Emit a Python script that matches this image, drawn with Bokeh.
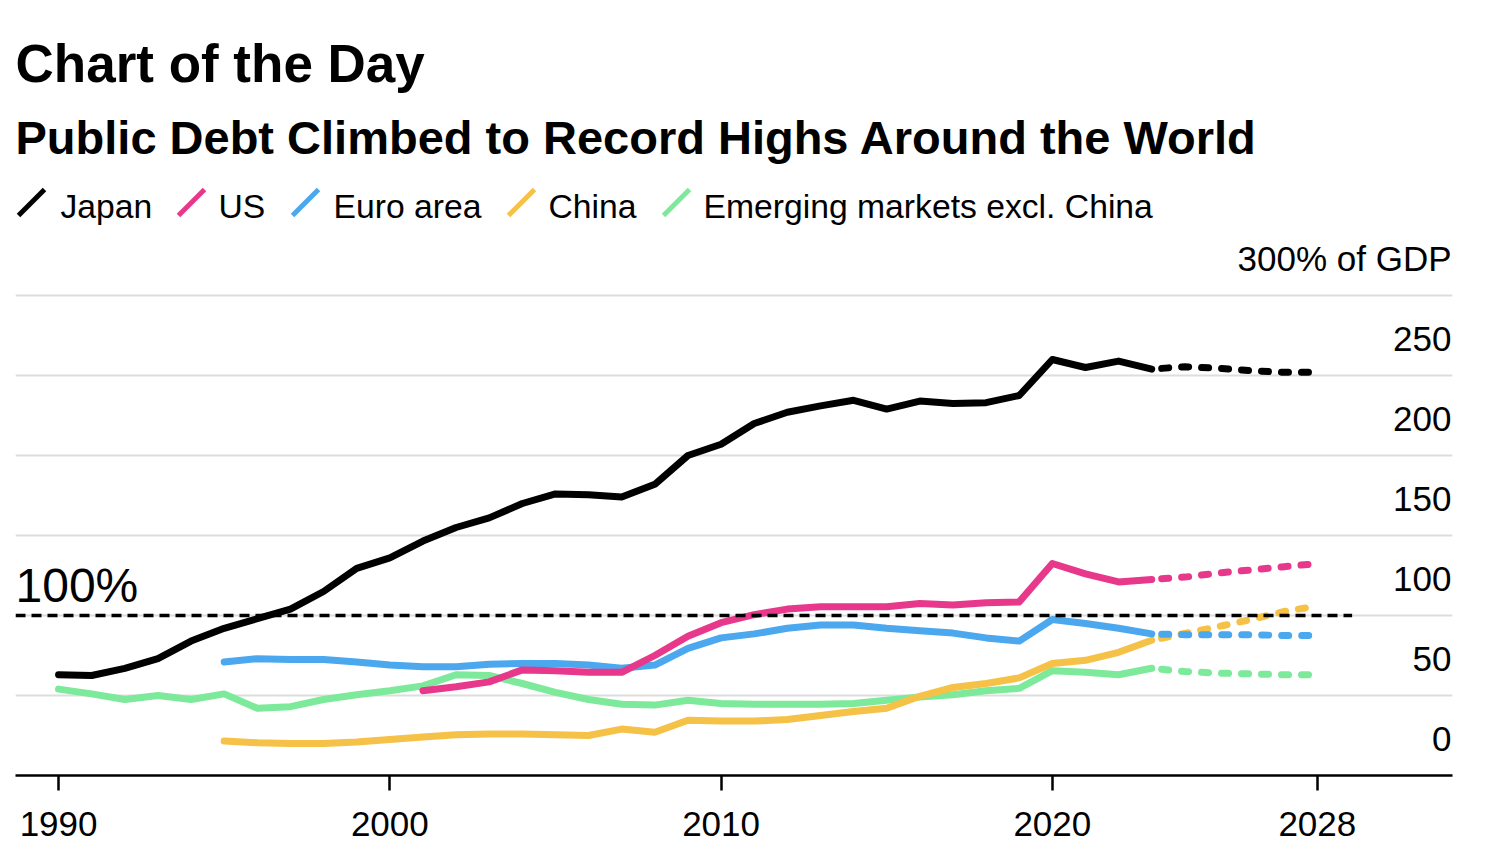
from bokeh.plotting import figure
from bokeh.models import Label, Arrow, FixedTicker, Range1d
from bokeh.embed import file_html
from bokeh.resources import INLINE
from bokeh.core.properties import value

FONT = "Liberation Sans"

# ---------------- data (% of GDP) ----------------
years_japan = list(range(1990, 2024))
japan = [63, 62.5, 67, 73, 84, 92, 98, 104, 115, 129.5, 136, 146.5, 155, 161, 170,
         176, 175.5, 174, 182, 200, 207, 220, 227, 231, 234.5, 229, 234, 232.5, 233,
         237.5, 260, 255, 259, 254]

years_us = list(range(2001, 2024))
us = [53, 55.5, 58.5, 66, 65.5, 64.5, 64.5, 75, 87, 95.5, 100.5, 104, 105.5, 105.5,
      105.5, 107.5, 106.5, 108, 108.5, 132.5, 126, 121, 122.5]

years_euro = list(range(1995, 2024))
euro = [71, 73, 72.5, 72.5, 71, 69, 68, 68, 69.5, 70, 70, 69, 67, 69, 79.5, 86, 88.5,
        92, 94, 94, 92, 90.5, 89, 86, 84, 97.5, 95, 92, 88.5]

years_china = list(range(1995, 2024))
china = [21.5, 20.5, 20, 20, 21, 22.5, 24, 25.5, 26, 26, 25.5, 25, 29, 27, 34.5, 34, 34,
         35, 37.5, 40, 42, 49.5, 55, 57.5, 61, 70, 72, 77, 84.5]

years_em = list(range(1990, 2024))
em = [54, 51, 47.5, 50, 47.5, 51, 42, 43, 47.5, 50.5, 53, 56, 63, 62.5, 57.5, 52, 47.5,
      44.5, 44, 47, 45, 44.5, 44.5, 44.5, 45, 47, 49, 50.5, 53, 54.5, 65.5, 64.5, 63, 67]

# projections (start at last actual value)
years_proj = [2023, 2024, 2025, 2026, 2027, 2028]
japan_proj = [254, 255.5, 254.5, 253, 252, 252]
us_proj = [122.5, 124, 126.5, 128.5, 130.5, 132.5]
euro_proj = [88.5, 88, 88, 88, 87.5, 87.5]
china_proj = [84.5, 88.8, 93, 97.5, 102.5, 106]
em_proj = [67, 65, 64, 63.5, 63, 63]

series_names = ["Japan", "US", "Euro area", "China", "Emerging markets excl. China"]
series_colors = ["#000000", "#e8388b", "#4ba8ee", "#f5c146", "#7de99a"]

x_ticks = [1990, 2000, 2010, 2020, 2028]
y_ticks = [0, 50, 100, 150, 200, 250, 300]
y_tick_labels = ["0", "50", "100", "150", "200", "250", "300% of GDP"]
threshold = 100
threshold_end = 2029.05

# ---------------- figure ----------------
# frame spans the full canvas height above the x axis so that the titles and
# legend (annotations in screen units) are drawn inside it
x0, x1 = 1988.70, 2032.08
p = figure(frame_width=1437, frame_height=775,
           min_border_left=15, min_border_right=48, min_border_top=0, min_border_bottom=75,
           x_range=Range1d(x0, x1), y_range=Range1d(0, 484.375),
           output_backend="svg", toolbar_location=None, y_axis_location=None)
p.outline_line_color = None
p.background_fill_color = "white"
p.border_fill_color = "white"

p.xgrid.grid_line_color = None
p.ygrid.ticker = FixedTicker(ticks=y_ticks)
p.ygrid.grid_line_color = "#dddddd"
p.ygrid.grid_line_width = 2

ax = p.xaxis[0]
ax.ticker = FixedTicker(ticks=x_ticks)
ax.axis_line_color = "black"
ax.axis_line_width = 2.5
ax.major_tick_line_color = "black"
ax.major_tick_line_width = 2.5
ax.major_tick_in = 0
ax.major_tick_out = 15
ax.minor_tick_line_color = None
ax.major_label_text_font = FONT
ax.major_label_text_font_size = "35px"
ax.major_label_text_color = "black"
ax.major_label_standoff = 21

# series (drawn back to front)
actual = [(years_japan, japan), (years_us, us), (years_euro, euro),
          (years_china, china), (years_em, em)]
proj = [japan_proj, us_proj, euro_proj, china_proj, em_proj]
for i in reversed(range(5)):
    xs, ys = actual[i]
    p.line(xs, ys, line_color=series_colors[i], line_width=7, line_join="round",
           line_cap="round")
    p.line(years_proj, proj[i], line_color=series_colors[i], line_width=7,
           line_dash="7 13", line_dash_offset=-10, line_cap="round")

# 100% reference line
p.line([x0, threshold_end], [threshold, threshold], line_color="black", line_width=3.5,
       line_dash="10 6")
p.text(x=[x0], y=[threshold], text=["100%"], text_font=value(FONT),
       text_font_size=value("48px"), text_color="black", text_align="left",
       text_baseline="alphabetic", y_offset=-30)

# right-hand value labels
p.text(x=[x1] * len(y_ticks), y=y_ticks, text=y_tick_labels, text_font=value(FONT),
       text_font_size=value("35px"), text_color="black", text_align="right",
       text_baseline="alphabetic", y_offset=-37, x_offset=-1)

# titles (screen units: x from frame left, y from frame bottom)
p.add_layout(Label(x=0, y=712, x_units="screen", y_units="screen", text="Chart of the Day",
                   text_font=FONT, text_font_size="53px", text_font_style="bold",
                   text_color="black", text_baseline="alphabetic", text_align="left"))
p.add_layout(Label(x=0, y=638, x_units="screen", y_units="screen",
                   text="Public Debt Climbed to Record Highs Around the World",
                   text_font=FONT, text_font_size="47px", text_font_style="bold",
                   text_color="black", text_baseline="alphabetic", text_align="left"))

# legend
legend_text_x = [45, 203, 318, 533, 688]
legend_mark_x = [3, 163, 277, 493, 648]
for name, col, tx, mx in zip(series_names, series_colors, legend_text_x, legend_mark_x):
    p.add_layout(Arrow(x_start=mx, y_start=560, x_end=mx + 26, y_end=586,
                       start_units="screen", end_units="screen", end=None,
                       line_color=col, line_width=5))
    p.add_layout(Label(x=tx, y=570, x_units="screen", y_units="screen", text=name,
                       text_font=FONT, text_font_size="33.7px", text_color="black",
                       text_baseline="alphabetic", text_align="left"))

open("out.html", "w").write(file_html(p, INLINE))
